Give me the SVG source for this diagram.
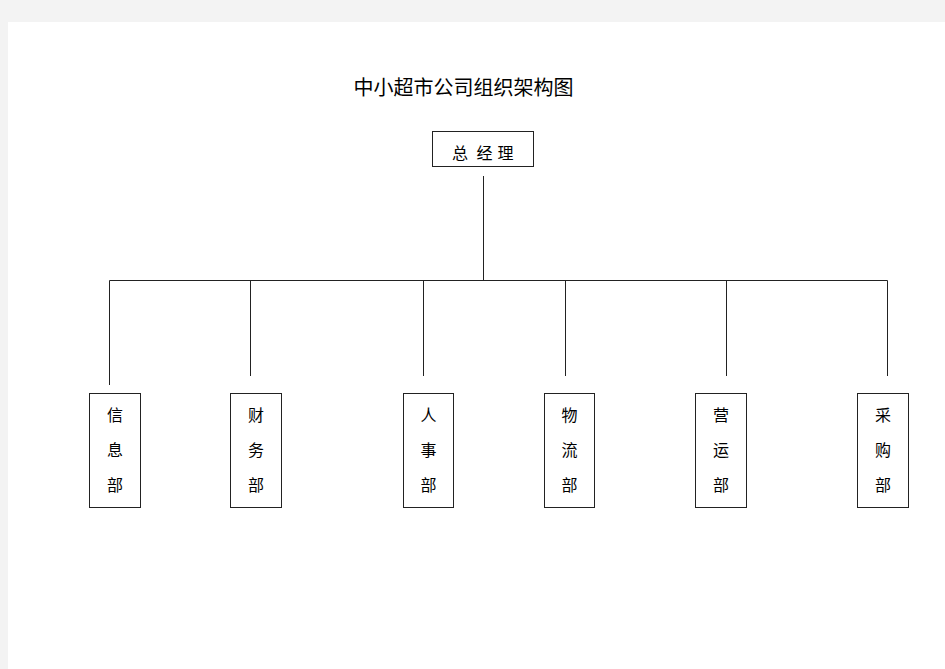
<svg xmlns="http://www.w3.org/2000/svg" width="945" height="669" viewBox="0 0 945 669">
<style>
.box{fill:#fff;stroke:#222;stroke-width:1}
.ln{stroke:#222;stroke-width:1;fill:none}
.t{font-family:"Noto Sans CJK SC",sans-serif;font-size:16px;fill:#000;text-anchor:middle}
.title{font-family:"Noto Sans CJK SC",sans-serif;font-size:20px;fill:#000;text-anchor:middle}
</style>
<rect x="0" y="0" width="945" height="669" fill="#f3f3f3"/>
<rect x="8" y="22" width="937" height="647" fill="#fff"/>
<text class="title" x="463.5" y="95">中小超市公司组织架构图</text>
<g id="connectors">
<path class="ln" d="M483.5,176 V280.5 M109.5,280.5 H887.5 M109.5,280.5 V385 M250.5,280.5 V376 M423.5,280.5 V376 M565.5,280.5 V376 M726.5,280.5 V376 M887.5,280.5 V376"/>
</g>
<g id="gm">
<rect class="box" x="432.5" y="131.5" width="101" height="35"/>
<text class="t" x="460" y="159">总</text><text class="t" x="484.5" y="159">经</text><text class="t" x="505.5" y="159">理</text>
</g>
<g id="info">
<rect class="box" x="89.5" y="393.5" width="51" height="114"/>
<text class="t" x="115" y="421">信</text><text class="t" x="115" y="456">息</text><text class="t" x="115" y="491">部</text>
</g>
<g id="finance">
<rect class="box" x="230.5" y="393.5" width="51" height="114"/>
<text class="t" x="256" y="421">财</text><text class="t" x="256" y="456">务</text><text class="t" x="256" y="491">部</text>
</g>
<g id="hr">
<rect class="box" x="403.5" y="393.5" width="50" height="114"/>
<text class="t" x="428.5" y="421">人</text><text class="t" x="428.5" y="456">事</text><text class="t" x="428.5" y="491">部</text>
</g>
<g id="logistics">
<rect class="box" x="544.5" y="393.5" width="50" height="114"/>
<text class="t" x="569.5" y="421">物</text><text class="t" x="569.5" y="456">流</text><text class="t" x="569.5" y="491">部</text>
</g>
<g id="operations">
<rect class="box" x="695.5" y="393.5" width="51" height="114"/>
<text class="t" x="721" y="421">营</text><text class="t" x="721" y="456">运</text><text class="t" x="721" y="491">部</text>
</g>
<g id="purchasing">
<rect class="box" x="857.5" y="393.5" width="51" height="114"/>
<text class="t" x="883" y="421">采</text><text class="t" x="883" y="456">购</text><text class="t" x="883" y="491">部</text>
</g>
</svg>
